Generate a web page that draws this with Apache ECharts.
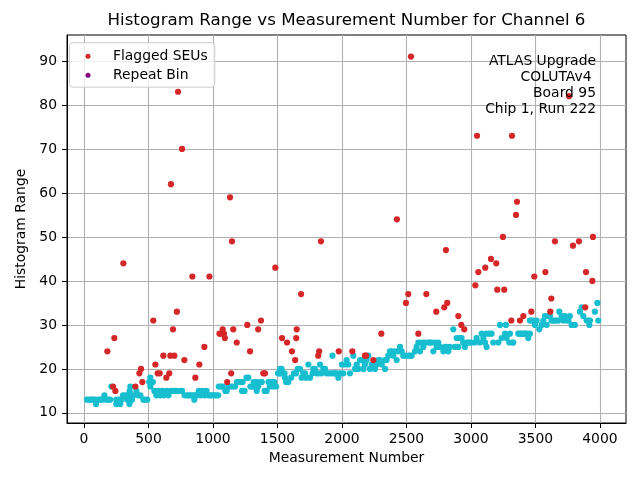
<!DOCTYPE html>
<html><head><meta charset="utf-8">
<script src="https://cdn.jsdelivr.net/npm/echarts@6/dist/echarts.min.js"></script>
<style>html,body{margin:0;padding:0;background:#fff}#c{width:640px;height:480px}</style>
</head><body><div id="c"></div>
<script>
// Regular measurements (cyan) [measurement number, histogram range]
const measured = [
[23,13],[38,13],[53,13],[68,13],[83,13],[93,12],[108,13],[123,13],[138,13],[158,14],[173,13],[188,13],[203,13],[212,16],[250,12],[250,13],[270,13],[281,12],[290,13],[302,14],[320,14],[335,13],[340,14],[352,12],[354,15],[359,16],[360,14],[372,13],[385,14],[406,15],[420,14],[437,14],[460,13],[475,13],[490,13],[505,17],[514,16],[514,18],[520,17],[534,17],
[545,15],[560,14],[575,15],[590,14],[605,15],[620,14],[640,15],[655,14],[672,15],[690,15],[705,15],[720,15],[740,15],[760,15],[780,14],[800,14],[815,14],[830,14],[845,14],[855,13],[860,14],[875,14],[890,15],
[905,14],[920,15],[935,14],[950,15],[965,14],[980,14],[995,14],[1010,14],[1025,14],[1040,14],[1045,16],[1060,16],[1075,16],[1095,15],[1106,15],[1120,16],[1135,16],
[1150,16],[1171,16],[1185,17],[1200,17],[1215,17],[1225,15],[1230,17],[1245,15],[1260,18],[1274,18],[1290,16],[1305,16],[1315,17],[1320,16],[1335,17],[1339,15],[1350,16],[1365,17],[1378,17],[1400,15],[1416,15],[1430,17],[1440,16],[1445,17],[1460,17],[1465,16],[1475,17],[1490,16],
[1504,19],[1513,19],[1519,20],[1525,19],[1532,20],[1540,19],[1555,19],[1558,18],[1567,17],[1584,17],[1606,18],[1628,19],[1645,19],[1657,20],[1674,20],[1687,18],[1700,19],[1713,19],[1721,18],[1739,21],[1752,18],[1772,19],[1778,20],[1790,20],[1804,19],[1817,19],[1830,21],[1842,19],[1855,20],[1868,20],[1881,19],[1900,19],[1920,19],[1926,23],[1940,19],[1946,19],[1960,19],[1972,18],[1985,19],
[2000,21],[2010,19],[2023,21],[2036,22],[2049,21],[2062,19],[2088,23],[2101,20],[2114,21],[2127,20],[2140,22],[2153,22],[2166,20],[2178,21],[2191,22],[2204,23],[2217,20],[2230,21],[2256,20],[2269,21],[2282,22],[2295,22],[2308,21],[2334,20],[2334,22],[2346,22],[2359,23],[2372,24],[2385,24],[2398,23],[2411,24],[2424,22],[2437,24],[2450,25],[2463,24],[2475,23],[2490,23],[2514,23],[2527,23],[2540,23],[2566,24],[2579,25],[2592,26],[2605,24],[2618,26],[2631,25],[2643,26],[2669,26],[2682,26],[2695,26],[2708,24],[2721,26],[2734,25],[2747,26],[2760,25],[2786,24],[2798,25],[2811,25],[2824,24],[2837,25],[2863,29],[2876,25],[2889,27],[2902,25],[2914,27],[2927,27],[2940,26],[2953,25],[2966,26],[2979,26],
[2992,26],[3005,26],[3031,26],[3044,27],[3070,26],[3083,28],[3096,27],[3109,26],[3121,28],[3121,25],[3147,28],[3160,28],[3173,26],[3212,26],[3225,30],[3238,27],[3264,28],[3271,30],[3276,27],[3297,26],[3302,28],[3323,26],[3328,26],[3367,28],[3380,28],[3393,28],[3406,28],[3419,28],[3432,28],[3444,27],[3457,28],[3457,31],[3470,31],[3483,31],[3496,30],[3509,31],[3530,29],[3548,30],[3561,31],[3574,32],[3587,30],[3599,32],[3612,32],[3625,31],[3638,31],[3651,31],[3664,31],[3677,31],[3685,33],[3703,32],[3716,31],[3729,32],[3742,31],[3755,31],[3767,32],[3780,30],[3806,30],[3845,33],[3858,34],[3871,32],[3897,31],[3910,31],[3918,30],[3923,31],[3961,33],[3980,35],[3987,31]
];
// Flagged SEUs (red)
const flagged = [
[181,24],[225,16],[235,27],[243,15],[305,44],[398,16],[429,19],[442,20],[452,17],[537,31],[553,21],[571,19],[587,19],[615,23],[638,18],[661,19],[669,23],[674,62],[690,29],[700,23],[720,33],[729,83],[760,70],[778,22],[840,41],[863,18],[894,21],[933,25],[972,41],
[1050,28],[1065,28],[1075,29],[1085,28],[1092,27],[1110,17],[1132,59],[1141,19],[1147,49],[1157,29],[1184,26],[1266,30],[1287,24],[1350,29],[1372,31],[1390,19],[1403,19],[1483,43],
[1535,27],[1574,26],[1612,24],[1637,22],[1649,29],[1645,27],[1683,37],[1816,23],[1823,24],[1837,49],[1975,24],
[2080,24],[2178,23],[2186,23],[2243,22],[2305,28],[2426,54],[2496,35],[2514,37],[2535,91],[2592,28],[2654,37],[2731,33],[2793,34],[2806,47],[2816,35],[2902,32],[2925,30],[2948,29],
[3034,39],[3047,73],[3057,42],[3111,43],[3155,45],[3196,44],[3204,38],[3248,50],[3258,38],[3313,31],[3318,73],[3349,55],[3357,58],[3380,31],[3406,32],[3468,33],[3491,41],[3577,42],[3615,33],[3623,36],[3651,49],[3760,82],[3791,48],[3837,49],[3886,34],[3892,42],[3941,40],[3946,50]
];
// Repeat bins (purple) - none visible
const repeatBins = [];
const xTicks = [0,500,1000,1500,2000,2500,3000,3500,4000];
const yTicks = [10,20,30,40,50,60,70,80,90];
const titleText = 'Histogram Range vs Measurement Number for Channel 6';
const noteLines = ['ATLAS Upgrade','COLUTAv4 ','Board 95','Chip 1, Run 222'];

const FONT = '"DejaVu Sans", sans-serif';
const chart = echarts.init(document.getElementById('c'), null, {renderer:'canvas'});
const axisCommon = {
  axisLine:{show:true, onZero:false, lineStyle:{color:'#000', width:1}},
  splitLine:{show:true, lineStyle:{color:'#b0b0b0', width:1.1}},
  nameLocation:'middle',
  nameTextStyle:{fontSize:13.9, color:'#000', fontFamily:FONT}
};
chart.setOption({
  animation:false,
  backgroundColor:'#fff',
  grid:{left:67, top:35, width:559, height:388, show:true, borderColor:'#000', borderWidth:1, backgroundColor:'transparent'},
  xAxis:Object.assign({}, axisCommon, {
    type:'value', min:-132, max:4202, splitNumber:9,
    name:'Measurement Number', nameGap:27,
    axisTick:{show:true, inside:false, length:5, lineStyle:{color:'#000', width:1}, customValues:xTicks},
    axisLabel:{customValues:xTicks, margin:9, fontSize:13.9, color:'#000', fontFamily:FONT, formatter:v => String(v)}
  }),
  yAxis:Object.assign({}, axisCommon, {
    type:'value', min:7.7, max:95.9, splitNumber:9,
    name:'Histogram Range', nameGap:39,
    axisTick:{show:true, inside:false, length:5, lineStyle:{color:'#000', width:1}, customValues:yTicks},
    axisLabel:{customValues:yTicks, margin:10, fontSize:13.9, color:'#000', fontFamily:FONT, formatter:v => String(v)}
  }),
  legend:{
    data:['Flagged SEUs','Repeat Bin'], orient:'vertical', left:69.5, top:42.7,
    icon:'circle', itemWidth:5, itemHeight:5, itemGap:5,
    padding:[6.5,7,5,16],
    backgroundColor:'rgba(255,255,255,0.8)', borderColor:'#cccccc', borderWidth:1, borderRadius:3,
    formatter:name => '{s|}' + name,
    textStyle:{fontSize:13.9, color:'#000', fontFamily:FONT, rich:{s:{width:17.5}}}
  },
  series:[
    {name:'Measured', type:'scatter', data:measured, symbolSize:6.2, itemStyle:{color:'#17becf', opacity:1}, z:2},
    {name:'Flagged SEUs', type:'scatter', data:flagged, symbolSize:6.2, itemStyle:{color:'#d62728', opacity:1}, z:3},
    {name:'Repeat Bin', type:'scatter', data:repeatBins, symbolSize:6.2, itemStyle:{color:'#800080', opacity:1}, z:4}
  ],
  graphic:[
    {type:'text', x:346.5, y:21, z:10, style:{text:titleText, align:'center', verticalAlign:'middle', font:'16.67px ' + FONT, fill:'#000'}},
    {type:'text', x:596, y:53.7, z:10, style:{text:noteLines.join('\n'), align:'right', verticalAlign:'top', font:'13.9px ' + FONT, lineHeight:15.9, fill:'#000'}}
  ]
});
</script></body></html>
